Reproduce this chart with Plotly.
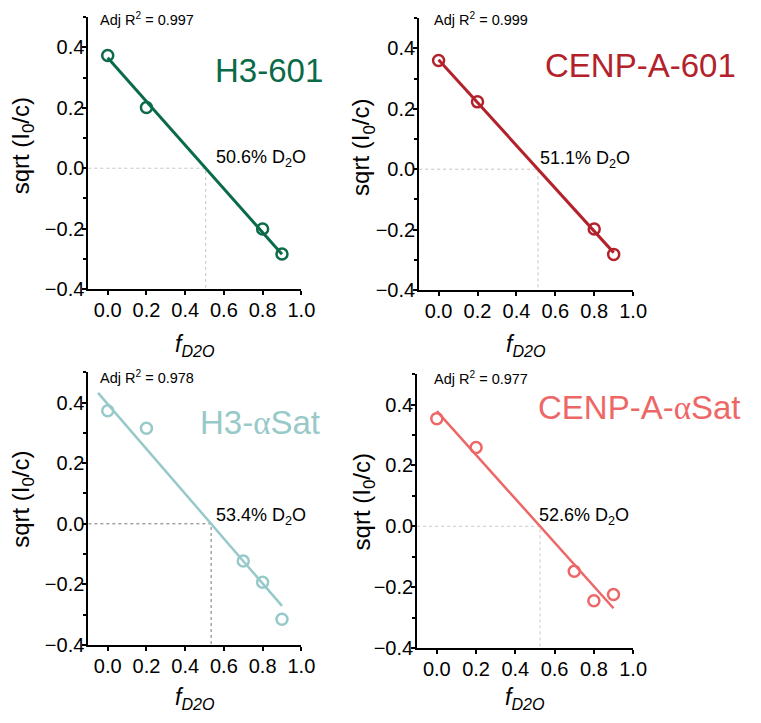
import plotly.graph_objects as go
import numpy as np

# Contrast-variation series: sqrt(I0/c) against D2O fraction
sample_names = ["H3-601", "CENP-A-601", "H3-αSat", "CENP-A-αSat"]
sample_colors = ["#0b6a47", "#b3222b", "#98c9c9", "#ee6767"]

f_h3_601 = [0.0, 0.2, 0.8, 0.9]
y_h3_601 = [0.373, 0.201, -0.201, -0.284]

f_cenpa_601 = [0.0, 0.2, 0.8, 0.9]
y_cenpa_601 = [0.360, 0.223, -0.198, -0.282]

f_h3_asat = [0.0, 0.2, 0.7, 0.8, 0.9]
y_h3_asat = [0.373, 0.315, -0.123, -0.193, -0.315]

f_cenpa_asat = [0.0, 0.2, 0.7, 0.8, 0.9]
y_cenpa_asat = [0.354, 0.259, -0.148, -0.245, -0.224]

adj_r2 = [0.997, 0.999, 0.978, 0.977]
match_point_pct = [50.6, 51.1, 53.4, 52.6]     # % D2O where the fit crosses zero
fit_slope = [-0.723, -0.710, -0.740, -0.720]
fit_span = [(0.0, 0.9), (0.0, 0.9), (-0.05, 0.9), (0.0, 0.9)]

y_ticks = [-0.4, -0.2, 0.0, 0.2, 0.4]
x_ticks = [0.0, 0.2, 0.4, 0.6, 0.8, 1.0]

series_f = [f_h3_601, f_cenpa_601, f_h3_asat, f_cenpa_asat]
series_y = [y_h3_601, y_cenpa_601, y_h3_asat, y_cenpa_asat]

W, H = 761, 723
FONT = "Arial, 'Liberation Sans', sans-serif"

# panel frames in pixels: left, right, top, bottom
frames = [
    (90, 307, 17.5, 293.5),
    (427, 645, 18.5, 294.5),
    (90, 307, 378, 655),
    (425, 645, 380, 658),
]
line_widths = [3, 3, 2.5, 2.5]
guide_colors = ["#c4c4c4", "#c4c4c4", "#777777", "#c8c8c8"]

# title centres (pixels)
title_pos = [(274, 72), (653, 67), (265, 429), (651, 414)]
ytitle_pos = [(23, 148), (370, 150), (23, 507), (370, 510)]
xtitle_y = [351, 351, 709, 709]
r2_pos = [(100, 19), (440, 19), (100, 383), (440, 384)]
label_xy = [(0.548, 0.033), (0.509, 0.033), (0.548, 0.023), (0.509, 0.033)]


def px(x):
    return x / W


def py(y):
    return 1 - y / H


fig = go.Figure()
annotations = []

for i in range(4):
    l, r, t, b = frames[i]
    sfx = "" if i == 0 else str(i + 1)
    xa, ya = "x" + sfx, "y" + sfx
    col = sample_colors[i]
    x0 = match_point_pct[i] / 100.0

    # guide lines to the match point
    fig.add_trace(go.Scatter(
        x=[-0.1, x0, x0], y=[0.0, 0.0, -0.4], mode="lines",
        line=dict(color=guide_colors[i], width=1, dash="dot"),
        xaxis=xa, yaxis=ya, showlegend=False, hoverinfo="skip"))

    # straight-line fit through the match point
    xs = np.array(fit_span[i])
    fig.add_trace(go.Scatter(
        x=xs, y=fit_slope[i] * (xs - x0), mode="lines",
        line=dict(color=col, width=line_widths[i]),
        xaxis=xa, yaxis=ya, showlegend=False))

    # measured points
    fig.add_trace(go.Scatter(
        x=series_f[i], y=series_y[i], mode="markers",
        marker=dict(symbol="circle-open", size=11, color=col,
                    line=dict(color=col, width=2.5)),
        xaxis=xa, yaxis=ya, showlegend=False))

    axis_common = dict(
        showline=True, linecolor="black", linewidth=2,
        ticks="outside", ticklen=4, tickwidth=2, tickcolor="black",
        showgrid=False, zeroline=False,
        tickfont=dict(family=FONT, size=20, color="black"),
    )
    fig.layout["xaxis" + sfx] = dict(
        axis_common, domain=[px(l), px(r)], range=[-0.1, 1.0],
        tickvals=x_ticks, tickformat=".1f", anchor=ya,
        ticklabelstandoff=-2)
    fig.layout["yaxis" + sfx] = dict(
        axis_common, domain=[py(b), py(t)], range=[-0.4, 0.5],
        tickvals=y_ticks, tickformat=".1f", anchor=xa,
        ticklabelstandoff=-6,
        minor=dict(ticks="outside", ticklen=3, tickwidth=1.5,
                   tickcolor="black", dtick=0.1, tick0=0.0))

    # sample name
    name = sample_names[i].replace(
        "α", "<span style=\"font-family:'Liberation Serif', 'Times New Roman', serif\">α</span>")
    annotations.append(dict(
        text=name, x=px(title_pos[i][0]), y=py(title_pos[i][1]),
        xref="paper", yref="paper", xanchor="center", yanchor="middle",
        showarrow=False, font=dict(family=FONT, size=33, color=col)))

    # adjusted R²
    annotations.append(dict(
        text=f"Adj R<sup>2</sup> = {adj_r2[i]:.3f}",
        x=px(r2_pos[i][0]), y=py(r2_pos[i][1]),
        xref="paper", yref="paper", xanchor="left", yanchor="middle",
        showarrow=False, font=dict(family=FONT, size=14.5, color="black")))

    # match point label
    annotations.append(dict(
        text=f"{match_point_pct[i]:.1f}% D<sub>2</sub>O",
        x=label_xy[i][0], y=label_xy[i][1], xref=xa, yref=ya,
        xanchor="left", yanchor="middle", showarrow=False,
        font=dict(family=FONT, size=18, color="black")))

    # axis titles
    annotations.append(dict(
        text="sqrt (I<sub>0</sub>/c)", textangle=-90,
        x=px(ytitle_pos[i][0]), y=py(ytitle_pos[i][1]),
        xref="paper", yref="paper", xanchor="center", yanchor="middle",
        showarrow=False, font=dict(family=FONT, size=24, color="black")))
    annotations.append(dict(
        text="<i>f<sub>D2O</sub></i>",
        x=px((l + r) / 2), y=py(xtitle_y[i]),
        xref="paper", yref="paper", xanchor="center", yanchor="middle",
        showarrow=False, font=dict(family=FONT, size=23, color="black")))

fig.update_layout(
    width=W, height=H,
    margin=dict(l=0, r=0, t=0, b=0),
    paper_bgcolor="white", plot_bgcolor="white",
    annotations=annotations,
    font=dict(family=FONT),
)

fig.write_html("out.html")
